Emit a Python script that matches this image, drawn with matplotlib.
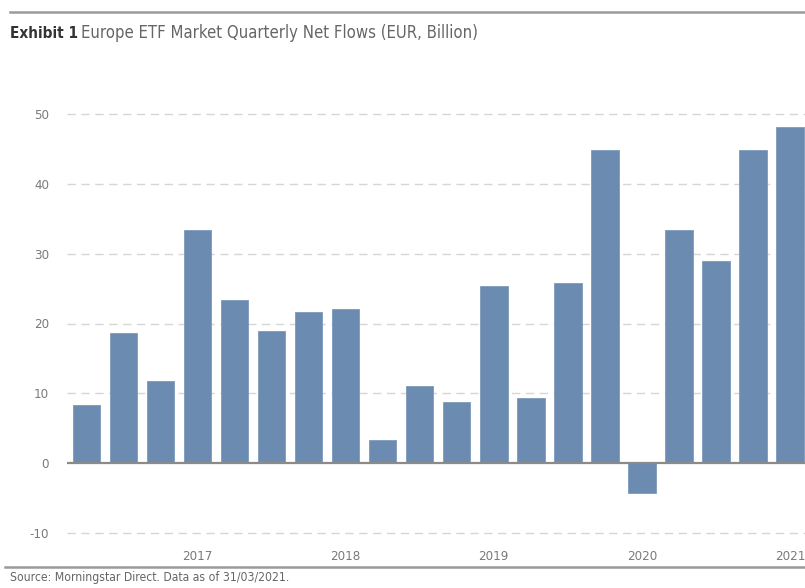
import matplotlib
matplotlib.use("Agg")
import matplotlib.pyplot as plt
from matplotlib.lines import Line2D

plt.rcParams['font.family'] = ['DejaVu Sans']
plt.rcParams['font.stretch'] = 'condensed'

quarters = ["2016Q2", "2016Q3", "2016Q4", "2017Q1", "2017Q2", "2017Q3", "2017Q4",
            "2018Q1", "2018Q2", "2018Q3", "2018Q4", "2019Q1", "2019Q2", "2019Q3",
            "2019Q4", "2020Q1", "2020Q2", "2020Q3", "2020Q4", "2021Q1"]
flows = [8.3, 18.6, 11.8, 33.4, 23.4, 18.9, 21.7, 22.1, 3.3, 11.1,
         8.8, 25.3, 9.3, 25.8, 44.9, -4.3, 33.4, 28.9, 44.8, 48.2]
year_labels = ["2017", "2018", "2019", "2020", "2021"]
year_quarters = ["2017Q1", "2018Q1", "2019Q1", "2020Q1", "2021Q1"]
yticks = [-10, 0, 10, 20, 30, 40, 50]

W, H = 805, 588
fig = plt.figure(figsize=(W / 100, H / 100), dpi=100)
ax = fig.add_axes([67 / W, (H - 533) / H, 1 - 67 / W, (533 - 114) / H])

x = list(range(len(quarters)))
ax.bar(x, flows, width=0.74, color="#6c8bb1", edgecolor="#7d99bb", linewidth=0.6, zorder=3)

ax.set_xlim(-0.52, 19.4)
ax.set_ylim(-10, 50)
ax.set_yticks(yticks)
ax.set_yticklabels([str(v) for v in yticks])
for v in yticks:
    if v == 0:
        ax.axhline(v, color="#8a8a8a", lw=1.6, zorder=4)
    else:
        ax.axhline(v, color="#d6d6d6", lw=1.0, ls=(0, (6, 4)), zorder=1, clip_on=False)

ax.set_xticks([quarters.index(q) for q in year_quarters])
ax.set_xticklabels(year_labels)
ax.tick_params(axis="both", length=0, colors="#7a7a7a", labelsize=9.5)
ax.tick_params(axis="x", pad=12)
ax.tick_params(axis="y", pad=13)
for s in ax.spines.values():
    s.set_visible(False)

# header / footer
fig.add_artist(Line2D([10 / W, 1], [1 - 12 / H, 1 - 12 / H], color="#9a9a9a", lw=1.8))
fig.add_artist(Line2D([5 / W, 1], [1 - 567 / H, 1 - 567 / H], color="#9a9a9a", lw=1.8))
t1 = fig.text(10 / W, 1 - 33 / H, "Exhibit 1", fontsize=11, fontweight="bold",
              color="#333333", va="center", ha="left")
fig.canvas.draw()
bb = t1.get_window_extent()
fig.text((bb.x1 + 3) / W, 1 - 33 / H, "Europe ETF Market Quarterly Net Flows (EUR, Billion)",
         fontsize=12, color="#666666", va="center", ha="left")
fig.text(10 / W, 1 - 578 / H, "Source: Morningstar Direct. Data as of 31/03/2021.",
         fontsize=8.7, color="#666666", va="center", ha="left")

fig.savefig("out.png", dpi=100)
